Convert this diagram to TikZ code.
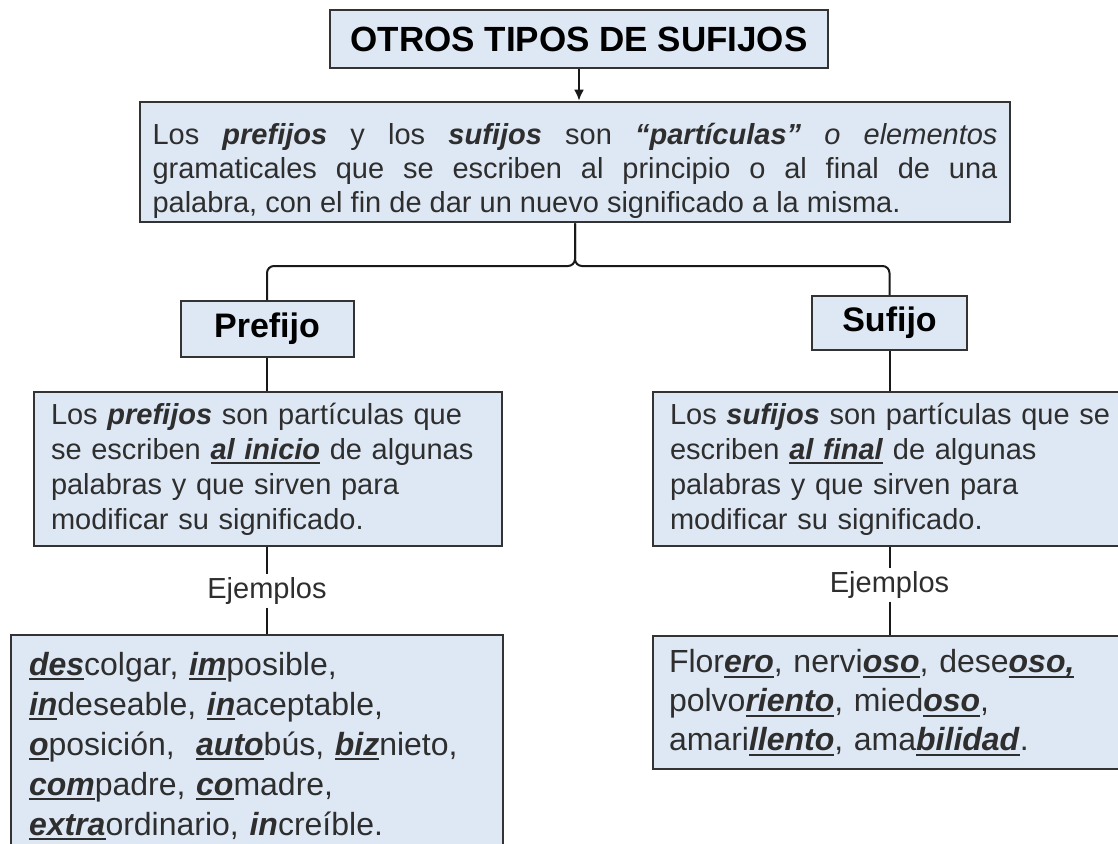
\documentclass[tikz,border=0pt]{standalone}
\usepackage{fontspec}
\setmainfont{Liberation Sans}
\usetikzlibrary{arrows,arrows.meta,positioning}

\definecolor{cajafondo}{HTML}{DEE8F4}
\definecolor{cajaborde}{HTML}{333333}
\definecolor{texto}{HTML}{2E2E2E}

\newsavebox{\subbox}
\newcommand{\bi}[1]{\textbf{\textit{#1}}}
\newcommand{\bu}[1]{\leavevmode\sbox{\subbox}{\bi{#1}}\rlap{\rule[-5pt]{\wd\subbox}{2pt}}\usebox{\subbox}}
\newcommand{\alto}[1]{\rule{0pt}{#1}}

\tikzset{
  caja/.style={draw=cajaborde, fill=cajafondo, line width=2pt, text=texto},
  cabeza/.style={caja, text=black, font=\bfseries\fontsize{34}{40}\selectfont},
  desc/.style={caja, anchor=north west, align=left, inner xsep=17pt,
    font=\fontsize{29}{35}\selectfont},
  ejbox/.style={caja, anchor=north west, align=left, inner xsep=17pt,
    font=\fontsize{32}{40}\selectfont},
  ejemplo/.style={text=texto, inner sep=3pt, font=\fontsize{29}{34}\selectfont},
  conector/.style={line width=2pt, draw=black!90},
}

\begin{document}
\begin{tikzpicture}[x=1pt,y=-1pt]
  \useasboundingbox (0,0) rectangle (1118,843);
  \clip (0,0) rectangle (1118,843);

  % titulo y definicion
  \node[cabeza, font=\bfseries\fontsize{35}{40}\selectfont, minimum width=498pt, minimum height=58pt] (titulo) at (579,39) {OTROS TIPOS DE SUFIJOS};
  \node[caja, minimum width=870pt, minimum height=120pt, text width=845pt, inner xsep=12.5pt,
        align=justify, font=\fontsize{29}{34}\selectfont] (def) at (575,162)
    {\alto{40pt}Los \bi{prefijos} y los \bi{sufijos} son \bi{“partículas”} \textit{o elementos}\linebreak
     gramaticales que se escriben al principio o al final de una\linebreak
     palabra, con el fin de dar un nuevo significado a la misma.};
  \draw[conector, -{Latex[length=11pt,width=10pt]}] (titulo.south) -- (titulo.south |- def.north);

  % ramas
  \node[cabeza, minimum width=173pt, minimum height=56pt] (prefijo) at (267,329) {Prefijo};
  \node[cabeza, minimum width=155pt, minimum height=54pt] (sufijo) at (889.5,323) {Sufijo};
  \coordinate (llave) at (575,266);
  \draw[conector, rounded corners=7pt] (prefijo.north) |- (llave) -- (def.south);
  \draw[conector, rounded corners=7pt] (sufijo.north) |- (llave) -- (def.south);

  % descripciones
  \node[desc, minimum width=468pt, minimum height=154pt, text width=434pt] (prefdesc) at (33,391)
    {Los \bi{prefijos} son partículas que\\
     se escriben \bu{al inicio} de algunas\\
     palabras y que sirven para\\
     modificar su significado.};
  \node[desc, minimum width=500pt, minimum height=154pt, text width=466pt, inner xsep=16pt] (sufdesc) at (652,391)
    {Los \bi{sufijos} son partículas que se\\
     escriben \bu{al final} de algunas\\
     palabras y que sirven para\\
     modificar su significado.};
  \draw[conector] (prefijo.south) -- (prefijo.south |- prefdesc.north);
  \draw[conector] (sufijo.south) -- (sufijo.south |- sufdesc.north);

  % ejemplos
  \node[ejemplo] (ejpre) at (267,591) {Ejemplos};
  \node[ejemplo] (ejsuf) at (889.5,585) {Ejemplos};
  \node[ejbox, minimum width=492pt, minimum height=222pt, text width=456pt, inner xsep=18pt] (prefej) at (10,634)
    {\bu{des}colgar, \bu{im}posible,\\
     \bu{in}deseable, \bu{in}aceptable,\\
     \bu{o}posición,\ \ \bu{auto}bús, \bu{biz}nieto,\\
     \bu{com}padre, \bu{co}madre,\\
     \bu{extra}ordinario, \bi{in}creíble.};
  \node[ejbox, minimum width=500pt, minimum height=133pt, text width=468pt, inner xsep=16pt,
        font=\fontsize{32}{39}\selectfont] (sufej) at (652,635)
    {Flor\bu{ero}, nervi\bu{oso}, dese\bu{oso,}\\
     polvo\bu{riento}, mied\bu{oso},\\
     amari\bu{llento}, ama\bu{bilidad}.};
  \draw[conector] (prefdesc.south -| ejpre) -- (ejpre);
  \draw[conector] (ejpre) -- (ejpre |- prefej.north);
  \draw[conector] (sufdesc.south -| ejsuf) -- (ejsuf);
  \draw[conector] (ejsuf) -- (ejsuf |- sufej.north);
\end{tikzpicture}
\end{document}
